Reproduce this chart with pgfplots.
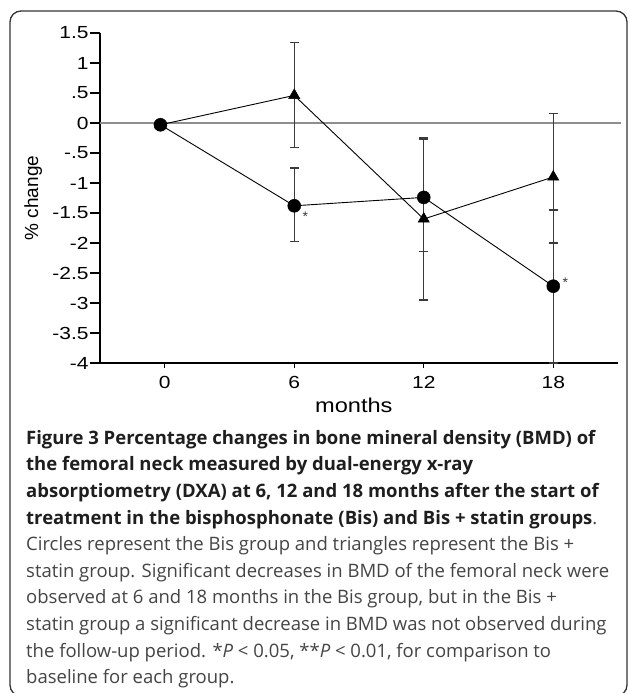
\documentclass[border=0pt]{standalone}
\usepackage{fontspec}
\setmainfont{Liberation Sans}
\newfontfamily\capfont{Open Sans}
\usepackage{pgfplots}
\pgfplotsset{compat=1.18}

\definecolor{errgray}{HTML}{3A3A3A}
\definecolor{zerogray}{HTML}{8E8E8E}
\definecolor{captext}{HTML}{444444}
\definecolor{capbold}{HTML}{1E1E1E}

\newcommand\capline[2]{\node[anchor=base west, inner sep=0pt, font=\capfont\fontsize{18.5}{18.5}\selectfont, captext] at (26pt,#1pt) {#2};}

\begin{document}
\begin{tikzpicture}
\useasboundingbox (0pt,0pt) rectangle (629pt,693pt);
\draw[rounded corners=11pt, line width=1.3pt, black!80] (10pt,-3pt) rectangle (627pt,682pt);

\begin{axis}[
  at={(100pt,330pt)}, anchor=south west,
  scale only axis, width=518pt, height=330pt,
  xmin=-3, xmax=21, ymin=-4, ymax=1.5,
  clip=false,
  axis x line=bottom, axis y line=left,
  axis line style={-, line width=1.3pt, black},
  tick align=outside,
  tick style={black, line width=1.1pt},
  major tick length=10pt,
  xtick style={/pgfplots/major tick length=5pt},
  xtick={0,6,12,18}, xticklabels={0,6,12,18},
  ytick={-4,-3.5,-3,-2.5,-2,-1.5,-1,-0.5,0,0.5,1,1.5},
  yticklabels={-4,-3.5,-3,-2.5,-2,-1.5,-1,-.5,0,.5,1,1.5},
  ticklabel style={font=\fontsize{17.5}{17.5}\selectfont, xscale=1.2},
  yticklabel style={inner sep=1pt},
  xlabel={months},
  xlabel style={font=\fontsize{20}{20}\selectfont, xscale=1.18, at={(axis description cs:0.49,-0.127)}, anchor=center},
  ylabel={\% change},
  ylabel style={font=\fontsize{19}{19}\selectfont, at={(axis description cs:-0.129,0.5)}, anchor=center},
]
% reference line at zero
\addplot[zerogray, line width=2.8pt, forget plot] coordinates {(-3,0) (21.15,0)};

% Bis + statin (triangles)
\addplot[black, line width=0.9pt, mark=triangle*, mark size=6.5pt,
  mark options={fill=black, line width=0.5pt},
  error bars/.cd, y dir=both, y explicit,
  error bar style={errgray, line width=1.2pt},
  error mark options={rotate=90, errgray, mark size=4.5pt, line width=1.2pt}]
coordinates {
  (-0.2,-0.03) +- (0,0)
  (6,0.46) += (0,0.88) -= (0,0.87)
  (12,-1.60) += (0,1.35) -= (0,1.35)
  (18,-0.90) += (0,1.06) -= (0,1.10)
};

% Bis (circles)
\addplot[black, line width=0.9pt, mark=*, mark size=6.5pt,
  mark options={fill=black, line width=0.5pt},
  error bars/.cd, y dir=both, y explicit,
  error bar style={errgray, line width=1.2pt},
  error mark options={rotate=90, errgray, mark size=4.5pt, line width=1.2pt}]
coordinates {
  (-0.2,-0.03) +- (0,0)
  (6,-1.38) += (0,0.63) -= (0,0.60)
  (12,-1.24) += (0,0.96) -= (0,0.90)
  (18,-2.72) += (0,1.27) -= (0,1.28)
};

\node[errgray, font=\fontsize{14}{14}\selectfont] at (axis cs:6,-1.38) [xshift=11pt, yshift=-11pt] {*};
\node[errgray, font=\fontsize{14}{14}\selectfont] at (axis cs:18,-2.72) [xshift=12pt, yshift=4pt] {*};
\end{axis}

\capline{248.7}{\color{capbold}\textbf{Figure 3 Percentage changes in bone mineral density (BMD) of}}
\capline{222.1}{\color{capbold}\textbf{the femoral neck measured by dual-energy x-ray}}
\capline{195.5}{\color{capbold}\textbf{absorptiometry (DXA) at 6, 12 and 18 months after the start of}}
\capline{168.9}{{\color{capbold}\textbf{treatment in the bisphosphonate (Bis) and Bis + statin groups}}.}
\capline{142.3}{Circles represent the Bis group and triangles represent the Bis +}
\capline{115.7}{statin group. Significant decreases in BMD of the femoral neck were}
\capline{89.1}{observed at 6 and 18 months in the Bis group, but in the Bis +}
\capline{62.5}{statin group a significant decrease in BMD was not observed during}
\capline{35.9}{the follow-up period. *\textit{P} < 0.05, **\textit{P} < 0.01, for comparison to}
\capline{9.3}{baseline for each group.}
\end{tikzpicture}
\end{document}
